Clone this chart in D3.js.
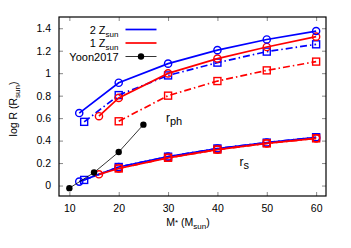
<!DOCTYPE html>
<html>
<head>
<meta charset="utf-8">
<script src="https://cdn.jsdelivr.net/npm/d3@7"></script>
<style>
  body { margin: 0; background: #fff; }
  text { font-family: "Liberation Sans", Arial, sans-serif; fill: #000; }
</style>
</head>
<body>
<svg id="chart"></svg>
<script>
const width = 351;
const height = 248;
const margin = {top: 17, right: 25, bottom: 52, left: 59};

// data
const xTicks = [10, 20, 30, 40, 50, 60];
const yTicks = [0, 0.2, 0.4, 0.6, 0.8, 1, 1.2, 1.4];

const massPh2Zc = [12, 20, 30, 40, 50, 60];
const rPh2Zc = [0.645, 0.915, 1.085, 1.205, 1.30, 1.375];
const massPh1Zc = [16, 20, 30, 40, 50, 60];
const rPh1Zc = [0.617, 0.78, 0.998, 1.13, 1.233, 1.325];
const massPh2Zs = [13, 20, 30, 40, 50, 60];
const rPh2Zs = [0.567, 0.805, 0.98, 1.094, 1.192, 1.257];
const massPh1Zs = [20, 30, 40, 50, 60];
const rPh1Zs = [0.572, 0.80, 0.93, 1.025, 1.103];

const massS2Zc = [12, 20, 30, 40, 50, 60];
const rS2Zc = [0.035, 0.165, 0.257, 0.33, 0.382, 0.43];
const massS2Zs = [13, 20, 30, 40, 50, 60];
const rS2Zs = [0.05, 0.165, 0.257, 0.33, 0.382, 0.43];
const massS1Zc = [16, 20, 30, 40, 50, 60];
const rS1Zc = [0.10, 0.152, 0.247, 0.32, 0.375, 0.42];
const massS1Zs = [20, 30, 40, 50, 60];
const rS1Zs = [0.152, 0.247, 0.32, 0.375, 0.42];

const massYoon = [10, 15, 20, 25];
const rYoon = [-0.023, 0.116, 0.298, 0.542];

const blue = "#0000ff";
const red = "#ff0000";
const dashDot = "7,3,1.5,3";

const svg = d3.select("#chart")
    .attr("width", width)
    .attr("height", height);

const x = d3.scaleLinear().domain([7.9, 62]).range([margin.left, width - margin.right]);
const y = d3.scaleLinear().domain([-0.093, 1.5]).range([height - margin.bottom, margin.top]);

const zip = (xs, ys) => xs.map((m, i) => [m, ys[i]]);
const line = d3.line().x(d => x(d[0])).y(d => y(d[1]));

// axes, ticks pointing inward on all sides
const tickFmt = d => d3.format("~g")(d);
svg.append("g")
    .attr("transform", `translate(0,${height - margin.bottom})`)
    .call(d3.axisBottom(x).tickValues(xTicks).tickSizeInner(-4).tickSizeOuter(0).tickPadding(9).tickFormat(tickFmt));
svg.append("g")
    .attr("transform", `translate(0,${margin.top})`)
    .call(d3.axisTop(x).tickValues(xTicks).tickSizeInner(-4).tickSizeOuter(0).tickFormat(""));
svg.append("g")
    .attr("transform", `translate(${margin.left},0)`)
    .call(d3.axisLeft(y).tickValues(yTicks).tickSizeInner(-4).tickSizeOuter(0).tickPadding(8).tickFormat(tickFmt));
svg.append("g")
    .attr("transform", `translate(${width - margin.right},0)`)
    .call(d3.axisRight(y).tickValues(yTicks).tickSizeInner(-4).tickSizeOuter(0).tickFormat(""));

svg.selectAll(".domain").remove();
svg.selectAll(".tick line").attr("stroke", "#888");
svg.selectAll(".tick text").style("font-size", "10.5px").attr("font-family", "Liberation Sans, Arial, sans-serif");

svg.append("rect")
    .attr("x", margin.left)
    .attr("y", margin.top)
    .attr("width", width - margin.left - margin.right)
    .attr("height", height - margin.top - margin.bottom)
    .attr("fill", "none")
    .attr("stroke", "#000")
    .attr("stroke-width", 1.2);

function drawSeries(xs, ys, color, dash, marker) {
    const pts = zip(xs, ys);
    svg.append("path")
        .datum(pts)
        .attr("d", line)
        .attr("fill", "none")
        .attr("stroke", color)
        .attr("stroke-width", 1.7)
        .attr("stroke-dasharray", dash);
    if (marker === "circle") {
        svg.append("g").selectAll("circle")
            .data(pts).join("circle")
            .attr("cx", d => x(d[0]))
            .attr("cy", d => y(d[1]))
            .attr("r", 3.6)
            .attr("fill", "none")
            .attr("stroke", color)
            .attr("stroke-width", 1.4);
    } else {
        svg.append("g").selectAll("rect")
            .data(pts).join("rect")
            .attr("x", d => x(d[0]) - 3.5)
            .attr("y", d => y(d[1]) - 3.5)
            .attr("width", 7)
            .attr("height", 7)
            .attr("fill", "none")
            .attr("stroke", color)
            .attr("stroke-width", 1.4);
    }
}

// r_s curves
drawSeries(massS2Zs, rS2Zs, blue, dashDot, "square");
drawSeries(massS2Zc, rS2Zc, blue, null, "circle");
drawSeries(massS1Zs, rS1Zs, red, dashDot, "square");
drawSeries(massS1Zc, rS1Zc, red, null, "circle");

// r_ph curves
drawSeries(massPh1Zs, rPh1Zs, red, dashDot, "square");
drawSeries(massPh2Zs, rPh2Zs, blue, dashDot, "square");
drawSeries(massPh1Zc, rPh1Zc, red, null, "circle");
drawSeries(massPh2Zc, rPh2Zc, blue, null, "circle");

// Yoon2017
const yoon = zip(massYoon, rYoon);
svg.append("path")
    .datum(yoon)
    .attr("d", line)
    .attr("fill", "none")
    .attr("stroke", "#000")
    .attr("stroke-width", 0.8);
svg.append("g").selectAll("circle")
    .data(yoon).join("circle")
    .attr("cx", d => x(d[0]))
    .attr("cy", d => y(d[1]))
    .attr("r", 3.2)
    .attr("fill", "#000");

// legend
const legend = [
    {label: "2 Z", sub: "sun", color: blue, dot: false},
    {label: "1 Z", sub: "sun", color: red, dot: false},
    {label: "Yoon2017", sub: null, color: "#000", dot: true}
];
legend.forEach((d, i) => {
    const ly = 29.5 + i * 13.5;
    const t = svg.append("text")
        .attr("x", 118.5)
        .attr("y", ly + 4)
        .attr("text-anchor", "end")
        .style("font-size", "11px")
        .text(d.label);
    if (d.sub) {
        t.append("tspan").attr("dy", 3).style("font-size", "8px").text(d.sub);
    }
    svg.append("line")
        .attr("x1", 125.5).attr("x2", 156.5)
        .attr("y1", ly).attr("y2", ly)
        .attr("stroke", d.color)
        .attr("stroke-width", d.dot ? 0.8 : 1.7);
    if (d.dot) {
        svg.append("circle").attr("cx", 141).attr("cy", ly).attr("r", 3.2).attr("fill", "#000");
    }
});

// curve labels
const rph = svg.append("text").attr("x", 166).attr("y", 122).style("font-size", "12px").text("r");
rph.append("tspan").attr("dy", 3).style("font-size", "11px").text("ph");
const rs = svg.append("text").attr("x", 239.5).attr("y", 166).style("font-size", "12px").text("r");
rs.append("tspan").attr("dy", 3).style("font-size", "11px").text("s");

// axis titles
const xt = svg.append("text")
    .attr("x", 188)
    .attr("y", 226)
    .attr("text-anchor", "middle")
    .style("font-size", "10.5px")
    .text("M");
xt.append("tspan").attr("dy", -1).style("font-size", "8px").text("*");
xt.append("tspan").attr("dy", 1).text(" (M");
xt.append("tspan").attr("dy", 3).style("font-size", "8px").text("sun");
xt.append("tspan").attr("dy", -3).text(")");

const yt = svg.append("text")
    .attr("transform", `translate(17,109) rotate(-90)`)
    .attr("text-anchor", "middle")
    .style("font-size", "10.5px")
    .text("log R (R");
yt.append("tspan").attr("dy", 3).style("font-size", "8px").text("sun");
yt.append("tspan").attr("dy", -3).text(")");
</script>
</body>
</html>
